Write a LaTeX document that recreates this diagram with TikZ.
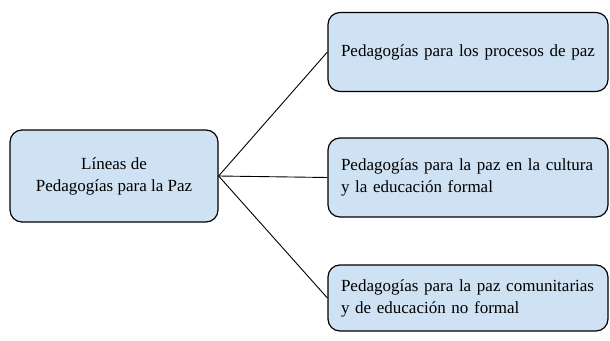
\documentclass[tikz,border=0pt]{standalone}
\usepackage{fontspec}
\setmainfont{Liberation Serif}
\definecolor{boxfill}{RGB}{207,226,243}
\begin{document}
\begin{tikzpicture}[x=1pt,y=1pt,yscale=-1,xscale=1,
    linea/.style={draw=black, rounded corners=12pt, fill=boxfill, line width=1.2pt, inner sep=0pt, font=\fontsize{17}{22}\selectfont},
    ramabox/.style={linea, minimum width=280pt, text width=254pt, align=left},
    rama/.style={draw=black, line width=0.9pt}]
            \useasboundingbox (0,0) rectangle (610,340);
            % Central box
            \node [linea, minimum width=208pt, minimum height=92pt, align=center] (central) at (114,176) {L\'ineas de\\Pedagog\'ias para la Paz};
            % Branch boxes
            \node [ramabox, minimum height=79pt] (procesos) at (468,52) {Pedagog\'ias para los procesos de paz};
            \node [ramabox, minimum height=79pt] (cultura) at (468,177.5) {Pedagog\'ias para la paz en la cultura\\y la educaci\'on formal};
            \node [ramabox, minimum height=66pt] (comunitarias) at (468,298) {Pedagog\'ias para la paz comunitarias\\y de educaci\'on no formal};
            % Connectors
            \draw [rama] (central.east) -- (procesos.west);
            \draw [rama] (central.east) -- (cultura.west);
            \draw [rama] (central.east) -- (comunitarias.west);
\end{tikzpicture}
\end{document}
